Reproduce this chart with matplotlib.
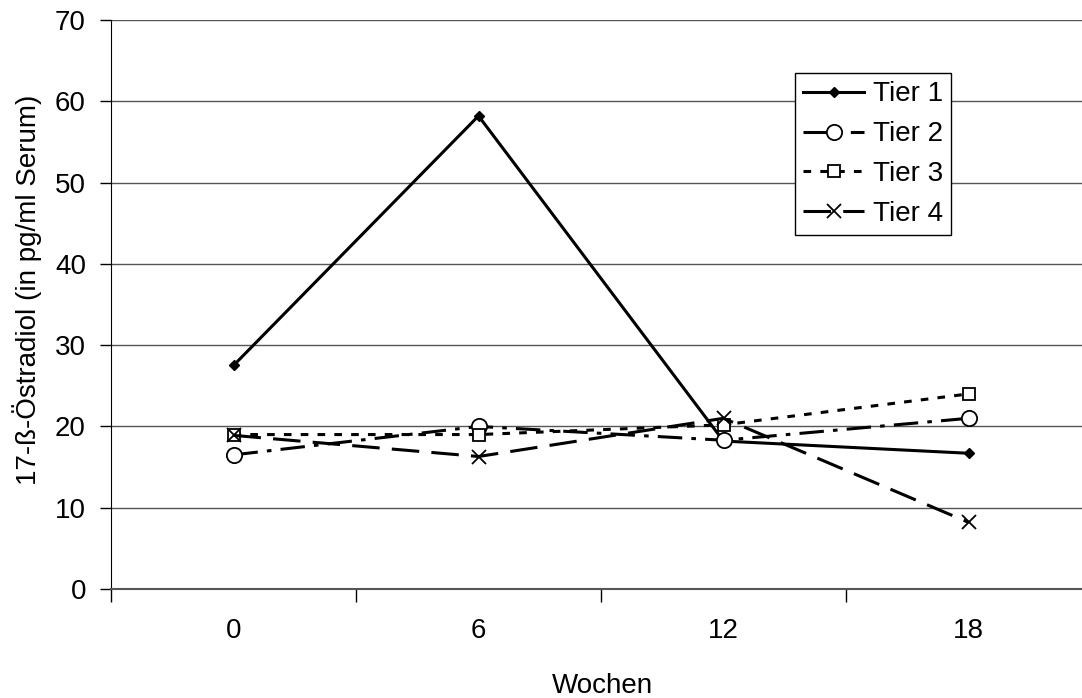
import matplotlib.pyplot as plt
from matplotlib.ticker import FixedLocator

plt.rcParams['font.family'] = ['Liberation Sans', 'DejaVu Sans']

weeks = ["0", "6", "12", "18"]
tier1 = [27.5, 58.2, 18.2, 16.7]
tier2 = [16.5, 20.0, 18.3, 21.0]
tier3 = [19.0, 19.0, 20.2, 24.0]
tier4 = [18.9, 16.3, 21.0, 8.2]

fig = plt.figure(figsize=(10.82, 6.98), dpi=100)
# the plot area runs a little past the right edge of the picture
ax = fig.add_axes([111 / 1082, 109 / 698, 980 / 1082, 569 / 698])

x = list(range(len(weeks)))
ax.plot(x, tier1, color='black', lw=2.2, ls='-', marker='D', ms=5,
        mfc='black', label='Tier 1')
ax.plot(x, tier2, color='black', lw=2.2, ls=(0, (8, 3, 1.5, 3)), marker='o', ms=11,
        mfc='white', mec='black', mew=1.3, label='Tier 2')
ax.plot(x, tier3, color='black', lw=2.2, ls=(0, (2.5, 3)), marker='s', ms=9,
        mfc='white', mec='black', mew=1.3, label='Tier 3')
ax.plot(x, tier4, color='black', lw=2.2, ls=(0, (9, 4)), marker='x', ms=10,
        mew=1.3, label='Tier 4')

ax.set_xlim(-0.5, 3.5)
ax.set_ylim(0, 70)
ax.set_yticks(range(0, 71, 10))
ax.set_xticks(x)
ax.set_xticklabels(weeks)
ax.xaxis.set_minor_locator(FixedLocator([-0.5, 0.5, 1.5, 2.5]))
ax.tick_params(axis='x', which='major', length=0, pad=21, labelsize=20)
ax.tick_params(axis='x', which='minor', length=9, width=1, direction='out')
ax.tick_params(axis='y', length=8, width=1, direction='out', pad=10, labelsize=20)

ax.grid(axis='y', color='#555555', lw=1)
ax.set_axisbelow(True)
for s in ['top', 'right']:
    ax.spines[s].set_visible(False)
ax.spines['left'].set_color('black')
ax.spines['bottom'].set_color('#555555')
ax.spines['bottom'].set_linewidth(1.5)

ax.set_xlabel('Wochen', fontsize=20)
ax.set_ylabel('17-ß-Östradiol (in pg/ml Serum)', fontsize=20)
ax.xaxis.set_label_coords(491 / 980, -84 / 569)
ax.yaxis.set_label_coords(-69 / 980, 299 / 569)

leg = fig.legend(loc='upper left', bbox_to_anchor=(795 / 1082, 1 - 73 / 698),
                 fontsize=20, frameon=True, fancybox=False, edgecolor='black',
                 framealpha=1, handlelength=2.2, handletextpad=0.3,
                 borderpad=0.3, labelspacing=0.5, borderaxespad=0)
leg.get_frame().set_linewidth(1)

fig.savefig('out.png', dpi=100)
